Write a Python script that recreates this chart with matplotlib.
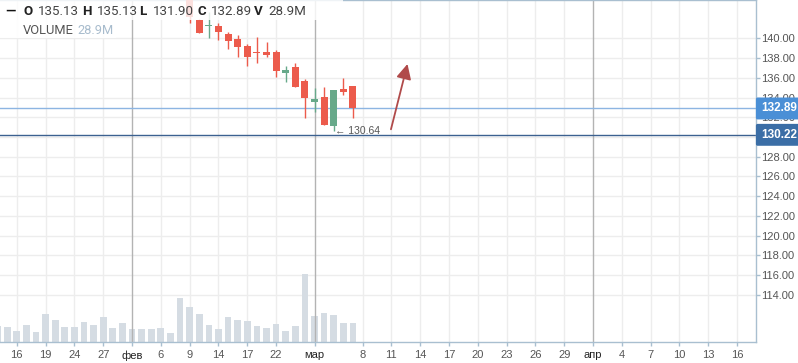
import matplotlib
matplotlib.use('Agg')
import matplotlib.pyplot as plt
import matplotlib.patches as mpatches
import matplotlib.transforms as mtransforms
import pandas as pd

# ---------------------------------------------------------------------------
# Data
# ---------------------------------------------------------------------------
trading_days = ['2017-01-12', '2017-01-13', '2017-01-16', '2017-01-17', '2017-01-18',
                '2017-01-19', '2017-01-20', '2017-01-23', '2017-01-24', '2017-01-25',
                '2017-01-26', '2017-01-27', '2017-01-30', '2017-01-31', '2017-02-01',
                '2017-02-02', '2017-02-03', '2017-02-06', '2017-02-07', '2017-02-08',
                '2017-02-09', '2017-02-10', '2017-02-13', '2017-02-14', '2017-02-15',
                '2017-02-16', '2017-02-17', '2017-02-20', '2017-02-21', '2017-02-22',
                '2017-02-24', '2017-02-27', '2017-02-28', '2017-03-01', '2017-03-02',
                '2017-03-03', '2017-03-06', '2017-03-07']

volume = [24.3, 23.3, 17.2, 25.9, 15.7, 42.6, 33.5, 22.8, 22.8, 30.4,
          25.9, 38.0, 21.3, 28.9, 19.8, 19.8, 19.8, 21.3, 13.7, 66.9,
          53.2, 42.6, 25.9, 19.8, 38.0, 33.5, 31.9, 24.3, 21.3, 27.4,
          16.7, 24.3, 103.4, 39.5, 44.1, 41.1, 28.9, 28.9]

# candles visible in the window start on 2017-02-09
candle_start = '2017-02-09'
opens = [144.60, 141.85, 141.27, 141.25, 140.47, 139.93, 139.22, 138.62, 138.64,
         138.64, 136.51, 137.09, 135.70, 133.52, 134.05, 131.15, 134.89, 135.13]
highs = [145.00, 141.95, 142.63, 141.52, 140.61, 140.33, 139.42, 140.16, 139.59,
         138.81, 137.19, 137.53, 135.88, 134.93, 135.10, 134.79, 136.01, 135.13]
lows = [141.60, 140.55, 140.06, 139.83, 138.92, 138.14, 137.22, 137.47, 138.07,
        136.11, 135.60, 135.10, 131.96, 132.56, 131.22, 130.64, 134.26, 131.90]
closes = [142.15, 140.57, 141.35, 140.67, 139.76, 139.15, 138.14, 138.52, 138.34,
          136.72, 136.79, 135.10, 133.98, 133.85, 131.22, 134.79, 134.56, 132.89]

last_close = 132.89
level_line = 130.22
low_mark_day = '2017-03-03'
low_mark = 130.64

price_ticks = [114, 116, 118, 120, 122, 124, 126, 128, 130, 132, 134, 136, 138, 140]
hidden_ticks = [130]  # sits under the 130.22 box

tick_dates = ['2017-01-16', '2017-01-19', '2017-01-24', '2017-01-27', '2017-02-01',
              '2017-02-06', '2017-02-09', '2017-02-14', '2017-02-17', '2017-02-22',
              '2017-03-01', '2017-03-08', '2017-03-11', '2017-03-14', '2017-03-17',
              '2017-03-20', '2017-03-23', '2017-03-26', '2017-03-29', '2017-04-01',
              '2017-04-04', '2017-04-07', '2017-04-10', '2017-04-13', '2017-04-16']
tick_labels = ['16', '19', '24', '27', 'фев', '6', '9', '14', '17', '22', 'мар',
               '8', '11', '14', '17', '20', '23', '26', '29', 'апр', '4', '7', '10',
               '13', '16']
month_dates = ['2017-02-01', '2017-03-01', '2017-04-01']

# drawn trend arrow (date, price)
arrow_start = ('2017-03-10', 130.78)
arrow_end = ('2017-03-12', 137.40)
arrow_frac = (0.96, 0.68)

# ---------------------------------------------------------------------------
# x positions: one slot per trading day, then calendar days into the future
# ---------------------------------------------------------------------------
future_days = pd.date_range('2017-03-08', '2017-04-20').strftime('%Y-%m-%d').tolist()
slots = {d: i for i, d in enumerate(trading_days + future_days)}


def xpos(d, frac=0.0):
    return slots[d] + frac


RED = '#ec5b4c'
GREEN = '#67a98a'
AXIS = '#a9bfd0'
GRID = '#ededed'
TXT = '#555555'

W, H = 798, 363
fig = plt.figure(figsize=(W / 100, H / 100), dpi=100)
fig.patch.set_facecolor('white')
ax = fig.add_axes([0, 21 / H, 756 / W, 342 / H])
ax.set_facecolor('white')

Y_TOP = 140 + 38.3 / 9.87
Y_BOT = 140 - 303.7 / 9.87
ax.set_ylim(Y_BOT, Y_TOP)
ax.set_xlim(0.25, 78.97)

# grid
for p in price_ticks:
    ax.axhline(p, color=GRID, lw=1, zorder=0)
for d in tick_dates:
    if d not in month_dates:
        ax.axvline(xpos(d), color=GRID, lw=1, zorder=0)

# volume bars, scaled to their own range in axes fraction
VOL_MAX = 520.0
vol_trans = mtransforms.blended_transform_factory(
    ax.transData, mtransforms.Affine2D().scale(1, 1 / VOL_MAX) + ax.transAxes)
ax.bar([xpos(d) for d in trading_days], volume, width=0.7, color='#d5dce3',
       transform=vol_trans, zorder=1)

for d in month_dates:
    ax.axvline(xpos(d), color='#b3b3b3', lw=1, zorder=1.5)

# candles
start = slots[candle_start]
for i, (o, h, l, c) in enumerate(zip(opens, highs, lows, closes)):
    x = start + i
    col = GREEN if c >= o else RED
    ax.plot([x, x], [l, h], color=col, lw=1, zorder=3, solid_capstyle='butt')
    body = max(abs(c - o), 0.1)
    ax.add_patch(mpatches.Rectangle((x - 0.36, min(o, c)), 0.72, body,
                                    facecolor=col, edgecolor='none', zorder=3))

# price lines
ax.axhline(last_close, color='#8db5e2', lw=1, zorder=2)
ax.axhline(level_line, color='#3c6190', lw=1, zorder=2)

ax.annotate(f'\u2190 {low_mark:.2f}', xy=(xpos(low_mark_day), low_mark),
            xytext=(1, -0.5), textcoords='offset points', ha='left', va='center',
            fontsize=7.5, color=TXT, family='Liberation Sans', zorder=4)

ax.annotate('', xy=(xpos(arrow_end[0], arrow_frac[1]), arrow_end[1]),
            xytext=(xpos(arrow_start[0], arrow_frac[0]), arrow_start[1]),
            arrowprops=dict(arrowstyle='-|>,head_length=0.9,head_width=0.45',
                            color='#b04a4a', lw=1.3, shrinkA=0, shrinkB=0),
            zorder=4)

# value boxes on the price axis
for val, fc in [(last_close, '#4a8fd6'), (level_line, '#3b6ea6')]:
    ax.annotate(f'{val:.2f}', xy=(1.0, val), xycoords=('axes fraction', 'data'),
                xytext=(3.5, 0), textcoords='offset points', ha='left', va='center',
                fontsize=8.5, fontweight='bold', color='white', family='Liberation Sans',
                bbox=dict(boxstyle='round,pad=0.42,rounding_size=0.15', fc=fc, ec='none'),
                zorder=10, annotation_clip=False)

# axes styling
ax.spines['left'].set_visible(False)
for s in ['right', 'bottom', 'top']:
    ax.spines[s].set_color(AXIS)
    ax.spines[s].set_linewidth(1)
ax.yaxis.tick_right()
ax.set_yticks(price_ticks)
ax.set_yticklabels(['' if p in hidden_ticks else f'{p:.2f}' for p in price_ticks])
ax.tick_params(axis='y', length=3, width=1, color=AXIS, labelsize=8,
               labelcolor=TXT, pad=1)
ax.set_xticks([xpos(d) for d in tick_dates])
ax.set_xticklabels(tick_labels)
ax.tick_params(axis='x', length=3, width=1, color=AXIS, labelsize=8,
               labelcolor=TXT, pad=3)
for lab, d in zip(ax.get_xticklabels(), tick_dates):
    lab.set_family('Liberation Sans')
    if d in month_dates:
        lab.set_color('#222222')
for lab in ax.get_yticklabels():
    lab.set_family('Liberation Sans')

# legend header (semi-transparent panel over the plot)
ax.add_patch(mpatches.Rectangle((0, 1 - 20 / 342), 343 / 756, 20 / 342,
                                transform=ax.transAxes, fc='white', ec='none',
                                alpha=0.82, zorder=5))
ax.add_patch(mpatches.Rectangle((0, 1 - 38 / 342), 116 / 756, 18 / 342,
                                transform=ax.transAxes, fc='white', ec='none',
                                alpha=0.9, zorder=5))

header = [(5, '\u2014', True, '#111111'), (23, 'O', True, '#222222'),
          (38, f'{opens[-1]:.2f}', False, '#444444'), (82, 'H', True, '#222222'),
          (97, f'{highs[-1]:.2f}', False, '#444444'), (139, 'L', True, '#222222'),
          (153, f'{lows[-1]:.2f}', False, '#444444'), (197, 'C', True, '#222222'),
          (211, f'{closes[-1]:.2f}', False, '#444444'), (254, 'V', True, '#222222'),
          (268, f'{volume[-1]:.1f}M', False, '#444444')]
for px, s, bold, col in header:
    fig.text(px / W, 1 - 11.5 / H, s, ha='left', va='center', fontsize=9.6,
             fontweight='bold' if bold else 'normal', color=col, family='Roboto',
             zorder=6)
fig.text(23 / W, 1 - 31 / H, 'VOLUME', ha='left', va='center', fontsize=9.3,
         color='#555555', family='Roboto', zorder=6)
fig.text(77 / W, 1 - 31 / H, f'{volume[-1]:.1f}M', ha='left', va='center',
         fontsize=9.3, color='#a8bccd', family='Roboto', zorder=6)

fig.savefig('out.png', dpi=100, facecolor='white')
